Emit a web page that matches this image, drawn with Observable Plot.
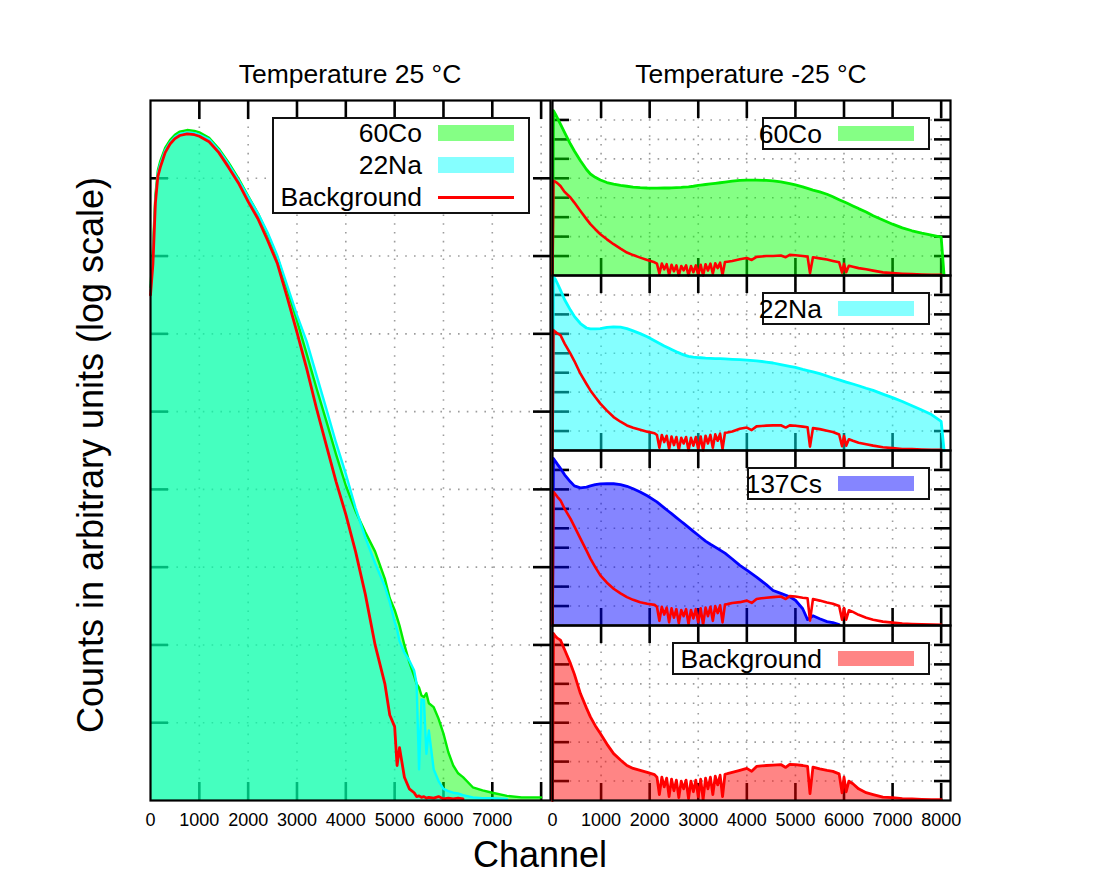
<!DOCTYPE html>
<html>
<head>
<meta charset="utf-8">
<script src="https://cdn.jsdelivr.net/npm/d3@7"></script>
<script src="https://cdn.jsdelivr.net/npm/@observablehq/plot@0.6"></script>
<style>
  body { margin: 0; background: #fff; }
  #chart { position: relative; width: 1100px; height: 888px; overflow: hidden; background: #fff;
           font-family: "Liberation Sans", Arial, Helvetica, sans-serif; color: #000; }
  .txt { position: absolute; white-space: nowrap; line-height: 1; transform: translate(-50%, -50%); }
  .legend { position: absolute; box-sizing: border-box; border: 2px solid #111; background: #fff; }
  .lgtxt { position: absolute; left: 0; text-align: right; white-space: nowrap; font-size: 26.5px; height: 30px; line-height: 30px; }
  .sw { position: absolute; }
</style>
</head>
<body>
<div id="chart"></div>
<script>
// ---------------- DATA (log10 of counts) ----------------
// Left panel: Temperature 25 °C
const ch25 = [0, 50, 100, 150, 200, 300, 400, 500, 600, 750, 900, 1000, 1200, 1400, 1600, 1800, 2000, 2200, 2400, 2600,
  2800, 3000, 3200, 3400, 3600, 3800, 4000, 4200, 4400, 4600, 4800, 4900, 5000, 5050, 5100, 5200, 5300, 5400, 5450, 5500,
  5550, 5600, 5650, 5700, 5800, 5900, 6000, 6100, 6200, 6300, 6400, 6600, 6800, 7000, 7300, 7600, 8000, 8150];
const co60_25 = [6.6, 7.1, 7.78, 8.1, 8.22, 8.39, 8.49, 8.56, 8.6, 8.62, 8.61, 8.59, 8.52, 8.38, 8.2, 8.0, 7.77, 7.55, 7.28, 6.98,
  6.58, 6.17, 5.74, 5.30, 4.88, 4.45, 4.05, 3.72, 3.45, 3.2, 2.85, 2.6, 2.45, 2.35, 2.25, 2.0, 1.78, 1.6, 1.5, 1.45,
  1.35, 1.33, 1.38, 1.25, 1.2, 1.05, 0.86, 0.62, 0.45, 0.35, 0.3, 0.17, 0.13, 0.1, 0.06, 0.04, 0.04, null];
const na22_25 = [6.55, 7.0, 7.72, 8.06, 8.18, 8.36, 8.46, 8.53, 8.57, 8.59, 8.58, 8.56, 8.5, 8.36, 8.18, 7.98, 7.76, 7.55, 7.3, 7.0,
  6.62, 6.24, 5.9, 5.47, 5.04, 4.6, 4.2, 3.76, 3.38, 3.05, 2.75, 2.55, 2.3, 2.2, 2.05, 1.9, 1.8, 1.67, 1.5, 0.4,
  1.3, 1.29, 0.6, 0.9, 0.4, 0.25, 0.15, 0.12, 0.1, 0.09, 0.07, 0.04, 0.03, 0.03, 0.02, null, null, null];
const bg25 = [6.5, 6.9, 7.68, 8.02, 8.14, 8.33, 8.44, 8.51, 8.55, 8.57, 8.56, 8.54, 8.47, 8.33, 8.14, 7.94, 7.70, 7.48, 7.20, 6.90,
  6.47, 6.02, 5.55, 5.04, 4.57, 4.10, 3.68, 3.2, 2.65, 2.0, 1.5, 1.1, 0.95, 0.45, 0.68, 0.3, 0.15, 0.1, 0.05, 0.06,
  0.04, 0.05, 0.03, 0.04, 0.03, 0.05, 0.02, 0.03, 0.02, 0.03, 0.02, null, null, null, null, null, null, null];

// Right panels: Temperature -25 °C (sources)
const chM25 = [0, 20, 60, 100, 164, 250, 369, 450, 575, 700, 780, 880, 985, 1120, 1258, 1400, 1532, 1660, 1805, 1950,
  2148, 2300, 2400, 2450, 2550, 2650, 2700, 2800, 2900, 3000, 3050, 3150, 3250, 3350, 3450, 3550, 3700, 3856, 4000, 4200,
  4400, 4541, 4700, 4883, 5000, 5150, 5250, 5361, 5500, 5650, 5771, 5900, 6045, 6100, 6183, 6300, 6456, 6600, 6800, 7000,
  7200, 7400, 7600, 7800, 8000, 8060];
const co60_m25 = [0, 8.48, 8.3, 8.1, 7.79, 7.35, 6.76, 6.4, 5.90, 5.45, 5.22, 5.05, 4.91, 4.78, 4.7, 4.63, 4.59, 4.55, 4.52, 4.5,
  4.49, 4.5, 4.5, 4.51, 4.52, 4.53, 4.54, 4.56, 4.59, 4.63, 4.65, 4.68, 4.71, 4.74, 4.77, 4.8, 4.85, 4.89, 4.91, 4.91,
  4.89, 4.87, 4.82, 4.73, 4.66, 4.56, 4.48, 4.39, 4.3, 4.18, 4.05, 3.9, 3.74, 3.68, 3.58, 3.44, 3.27, 3.07, 2.85, 2.64,
  2.45, 2.3, 2.18, 2.08, 1.97, 0];
const na22_m25 = [0, 8.93, 8.8, 8.6, 8.25, 7.75, 7.22, 6.9, 6.53, 6.3, 6.25, 6.25, 6.27, 6.33, 6.36, 6.34, 6.27, 6.15, 6.01, 5.85,
  5.58, 5.38, 5.26, 5.2, 5.08, 4.97, 4.92, 4.84, 4.8, 4.78, 4.77, 4.75, 4.74, 4.73, 4.72, 4.71, 4.69, 4.67, 4.65, 4.61,
  4.55, 4.5, 4.42, 4.33, 4.27, 4.17, 4.11, 4.04, 3.95, 3.83, 3.73, 3.63, 3.52, 3.48, 3.42, 3.33, 3.2, 3.09, 2.9, 2.72,
  2.52, 2.3, 2.08, 1.85, 1.5, 0];
const cs137_m25 = [0, 8.59, 8.45, 8.3, 8.08, 7.75, 7.39, 7.18, 7.08, 7.12, 7.18, 7.24, 7.28, 7.3, 7.29, 7.25, 7.16, 7.03, 6.87, 6.67,
  6.36, 6.05, 5.85, 5.75, 5.55, 5.35, 5.25, 5.05, 4.84, 4.64, 4.54, 4.34, 4.18, 4.03, 3.88, 3.72, 3.42, 3.09, 2.85, 2.49,
  2.1, 1.80, 1.65, 1.48, 1.3, 0.86, 0.3, 0.5, 0.35, 0.2, 0.15, 0.05, null, null, null, null, null, null, null, null,
  null, null, null, null, null, null];

// Background at -25 °C, as drawn against the axis of each of the four panels
const chBgM25 = [0, 20, 60, 100, 164, 250, 369, 450, 575, 700, 780, 880, 985, 1120, 1258, 1400, 1532, 1660, 1805, 1950,
  2100, 2150, 2200, 2250, 2300, 2350, 2400, 2450, 2500, 2550, 2600, 2650, 2700, 2750, 2800, 2850, 2900, 2950, 3000, 3050,
  3100, 3150, 3200, 3250, 3300, 3350, 3400, 3450, 3500, 3550, 3600, 3700,
  3856, 4000, 4100, 4200, 4300, 4400, 4541, 4700, 4800, 4883, 5000, 5150, 5250, 5300, 5361, 5500, 5650, 5771,
  5900, 5960, 6000, 6045, 6100, 6183, 6300, 6456, 6600, 6800, 7000, 7200, 7400, 7600, 7800, 8000, 8060];
const bgM25_p1 = [0, 4.87, 4.82, 4.75, 4.6, 4.3, 4.01, 3.75, 3.32, 2.9, 2.64, 2.38, 2.12, 1.86, 1.61, 1.38, 1.18, 1.05, 0.92, 0.8,
  0.68, 0.61, 0.09, 0.61, 0.32, 0.58, 0.03, 0.55, 0.22, 0.52, 0.0, 0.49, 0.26, 0.52, 0.0, 0.49, 0.17, 0.52, 0.03, 0.55,
  0.0, 0.58, 0.26, 0.61, 0.09, 0.63, 0.38, 0.66, 0.03, 0.69, 0.71, 0.75,
  0.84, 0.9, 0.8, 0.96, 0.98, 1.0, 1.0, 1.03, 0.94, 1.06, 1.04, 1.0, 0.97, 0.12, 0.94, 0.88, 0.82, 0.75,
  0.68, 0.15, 0.6, 0.17, 0.5, 0.45, 0.38, 0.32, 0.25, 0.16, 0.12, 0.09, 0.07, 0.05, 0.04, 0.03, null];
const bgM25_p2 = [0, 6.19, 6.1, 6.02, 5.93, 5.5, 4.98, 4.6, 3.95, 3.42, 3.09, 2.75, 2.41, 2.05, 1.72, 1.48, 1.29, 1.17, 1.07, 0.97,
  0.89, 0.80, 0.14, 0.80, 0.43, 0.76, 0.07, 0.72, 0.28, 0.69, 0.03, 0.65, 0.36, 0.69, 0.0, 0.65, 0.25, 0.69, 0.07, 0.72,
  0.0, 0.76, 0.36, 0.80, 0.14, 0.83, 0.50, 0.87, 0.07, 0.91, 0.93, 0.98,
  1.12, 1.18, 1.05, 1.24, 1.26, 1.28, 1.29, 1.3, 1.18, 1.29, 1.27, 1.23, 1.2, 0.2, 1.15, 1.1, 1.02, 0.95,
  0.82, 0.22, 0.75, 0.25, 0.58, 0.5, 0.4, 0.32, 0.25, 0.17, 0.12, 0.08, 0.07, 0.05, 0.04, 0.03, null];
const bgM25_p3 = [0, 6.87, 6.75, 6.62, 6.44, 6.0, 5.5, 5.1, 4.47, 3.85, 3.44, 3.0, 2.58, 2.2, 1.89, 1.65, 1.46, 1.32, 1.2, 1.12,
  1.06, 0.96, 0.24, 0.96, 0.56, 0.92, 0.16, 0.88, 0.40, 0.84, 0.12, 0.80, 0.48, 0.84, 0.08, 0.80, 0.36, 0.84, 0.16, 0.88,
  0.04, 0.92, 0.48, 0.96, 0.24, 1.0, 0.64, 1.04, 0.16, 1.08, 1.10, 1.16,
  1.2, 1.28, 1.16, 1.36, 1.4, 1.43, 1.46, 1.49, 1.36, 1.51, 1.49, 1.43, 1.4, 0.25, 1.36, 1.28, 1.18, 1.12,
  1.0, 0.3, 0.9, 0.3, 0.78, 0.7, 0.55, 0.4, 0.3, 0.2, 0.15, 0.1, 0.08, 0.06, 0.05, 0.04, null];
const bgM25_p4 = [0, 8.59, 8.45, 8.35, 8.25, 7.75, 7.05, 6.5, 5.5, 4.75, 4.30, 3.85, 3.44, 2.9, 2.41, 2.08, 1.80, 1.65, 1.55, 1.45,
  1.33, 1.2, 0.3, 1.2, 0.7, 1.15, 0.2, 1.1, 0.5, 1.05, 0.15, 1.0, 0.6, 1.05, 0.1, 1.0, 0.45, 1.05, 0.2, 1.1,
  0.05, 1.15, 0.6, 1.2, 0.3, 1.25, 0.8, 1.3, 0.2, 1.35, 1.38, 1.45,
  1.55, 1.65, 1.5, 1.75, 1.78, 1.8, 1.82, 1.85, 1.7, 1.86, 1.85, 1.8, 1.75, 0.35, 1.72, 1.63, 1.55, 1.5,
  1.37, 0.4, 1.2, 0.45, 1.0, 0.86, 0.6, 0.4, 0.3, 0.17, 0.15, 0.1, 0.08, 0.06, 0.05, 0.04, null];

// Ticks and labels
const xTicks = [1000, 2000, 3000, 4000, 5000, 6000, 7000, 8000];
const leftXLabels = [0, 1000, 2000, 3000, 4000, 5000, 6000, 7000];
const rightXLabels = [0, 1000, 2000, 3000, 4000, 5000, 6000, 7000, 8000];
const yTicks = [1e1, 1e2, 1e3, 1e4, 1e5, 1e6, 1e7, 1e8];
const yDomain = [1, 1e9];
const xDomain = [0, 8192];
const BASE = 1;

const titles = ["Temperature 25 °C", "Temperature -25 °C"];
const yLabel = "Counts in arbitrary units (log scale)";
const xLabel = "Channel";

// ---------------- STYLE ----------------
const FONT = '"Liberation Sans", Arial, Helvetica, sans-serif';
const GREEN = "#00ee00", CYAN = "#00ffff", BLUE = "#0000ff", RED = "#ff0000";
const FILL_OP = 0.48;

const rows = (chs, logs) => chs.map((c, i) => ({ch: c, v: logs[i] == null ? NaN : 10 ** logs[i]}));

function gridAndTicks(tickLen) {
  const g = {stroke: "#9c9c9c", strokeOpacity: 1, strokeWidth: 1.6, strokeDasharray: "1.6,7.2"};
  const tk = {stroke: "black", strokeWidth: 2.6, tickFormat: () => "", label: null, tickSize: -tickLen};
  return [
    Plot.gridX({ticks: xTicks, ...g}),
    Plot.gridY({ticks: yTicks, ...g}),
    Plot.axisX({ticks: xTicks, anchor: "bottom", ...tk}),
    Plot.axisX({ticks: xTicks, anchor: "top", ...tk}),
    Plot.axisY({ticks: yTicks, anchor: "left", ...tk}),
    Plot.axisY({ticks: yTicks, anchor: "right", ...tk})
  ];
}
function labelAxis(labels) {
  return Plot.axisX({ticks: labels, anchor: "bottom", tickSize: 0, tickPadding: 13, tickFormat: d => String(d),
    fontSize: 18, label: null, fill: "black"});
}
const area = (data, color) => Plot.areaY(data, {x: "ch", y1: () => BASE, y2: "v", fill: color, fillOpacity: FILL_OP, curve: "linear"});
const line = (data, color, w = 2.8) => Plot.line(data, {x: "ch", y: "v", stroke: color, strokeWidth: w, strokeLinejoin: "round"});

const chart = document.getElementById("chart");
function place(el, left, top) {
  el.style.position = "absolute";
  el.style.left = left + "px";
  el.style.top = top + "px";
  chart.appendChild(el);
}
const baseStyle = {background: "transparent", overflow: "visible", fontFamily: FONT, fontSize: "18px", color: "black"};

// ---------------- LEFT PANEL ----------------
const leftPlot = Plot.plot({
  width: 404, height: 744,
  marginLeft: 2, marginRight: 2, marginTop: 2, marginBottom: 42,
  style: baseStyle,
  x: {domain: xDomain, axis: null},
  y: {type: "log", domain: yDomain, axis: null},
  marks: [
    ...gridAndTicks(18),
    area(rows(ch25, co60_25), "#00ff00"),
    area(rows(ch25, na22_25), CYAN),
    line(rows(ch25, co60_25), GREEN, 2.4),
    line(rows(ch25, na22_25), CYAN, 2.4),
    line(rows(ch25, bg25), RED, 2.8),
    Plot.frame({stroke: "black", strokeWidth: 2.2}),
    labelAxis(leftXLabels)
  ]
});
place(leftPlot, 148, 98);

// ---------------- RIGHT PANELS ----------------
const panelTops = [100, 275, 450, 625];
const panels = [
  {ch: chM25, src: co60_m25, bg: bgM25_p1, fill: "#00ff00", stroke: GREEN},
  {ch: chM25, src: na22_m25, bg: bgM25_p2, fill: CYAN, stroke: CYAN},
  {ch: chM25, src: cs137_m25, bg: bgM25_p3, fill: BLUE, stroke: BLUE},
  {ch: chBgM25, src: bgM25_p4, bg: null, fill: RED, stroke: RED}
];
panels.forEach((p, i) => {
  const last = i === panels.length - 1;
  const srcRows = rows(p.ch, p.src);
  const marks = [
    ...gridAndTicks(17),
    area(srcRows, p.fill),
    line(srcRows, p.stroke, 2.8)
  ];
  if (p.bg) marks.push(line(rows(chBgM25, p.bg), RED, 2.6));
  marks.push(Plot.frame({stroke: "black", strokeWidth: 2.2}));
  if (last) marks.push(labelAxis(rightXLabels));
  const pl = Plot.plot({
    width: 430, height: last ? 219 : 179,
    marginLeft: 2, marginRight: 30, marginTop: 2, marginBottom: last ? 42 : 2,
    style: baseStyle,
    x: {domain: xDomain, axis: null},
    y: {type: "log", domain: yDomain, axis: null},
    marks
  });
  place(pl, 550, panelTops[i] - 2);
});

// ---------------- TEXT ----------------
function text(str, x, y, size, rotate) {
  const d = document.createElement("div");
  d.className = "txt";
  d.textContent = str;
  d.style.left = x + "px";
  d.style.top = y + "px";
  d.style.fontSize = size + "px";
  if (rotate) d.style.transform = "translate(-50%, -50%) rotate(" + rotate + "deg)";
  chart.appendChild(d);
}
text(titles[0], 350, 74, 26.5);
text(titles[1], 751, 74, 26.5);
text(yLabel, 91, 455, 36, -90);
text(xLabel, 540, 855, 36);

// ---------------- LEGENDS ----------------
function legend(box, rowsSpec, textRight, sw) {
  const b = document.createElement("div");
  b.className = "legend";
  Object.assign(b.style, {left: box.l + "px", top: box.t + "px", width: (box.r - box.l) + "px", height: (box.b - box.t) + "px"});
  chart.appendChild(b);
  rowsSpec.forEach(r => {
    const t = document.createElement("div");
    t.className = "lgtxt";
    t.textContent = r.label;
    Object.assign(t.style, {width: textRight + "px", top: (r.cy - 15) + "px"});
    chart.appendChild(t);
    const s = document.createElement("div");
    s.className = "sw";
    if (r.kind === "line") {
      Object.assign(s.style, {left: sw.x1 + "px", width: (sw.x2 - sw.x1) + "px", top: (r.cy - 1.5) + "px", height: "3px", background: r.color});
    } else {
      Object.assign(s.style, {left: sw.x1 + "px", width: (sw.x2 - sw.x1) + "px", top: (r.cy - sw.h / 2) + "px", height: sw.h + "px",
        background: r.color, opacity: FILL_OP});
    }
    chart.appendChild(s);
  });
}
legend({l: 272, t: 117, r: 530, b: 214}, [
  {label: "60Co", kind: "fill", color: "#00ff00", cy: 133},
  {label: "22Na", kind: "fill", color: CYAN, cy: 165},
  {label: "Background", kind: "line", color: RED, cy: 197}
], 422, {x1: 438, x2: 514, h: 16});

const rightLegends = [
  {label: "60Co", color: "#00ff00", left: 762},
  {label: "22Na", color: CYAN, left: 762},
  {label: "137Cs", color: BLUE, left: 747},
  {label: "Background", color: RED, left: 672}
];
rightLegends.forEach((lg, i) => {
  const top = panelTops[i];
  legend({l: lg.left, t: top + 17, r: 930, b: top + 50},
    [{label: lg.label, kind: "fill", color: lg.color, cy: top + 33.5}], 822, {x1: 838, x2: 914, h: 15});
});
</script>
</body>
</html>
